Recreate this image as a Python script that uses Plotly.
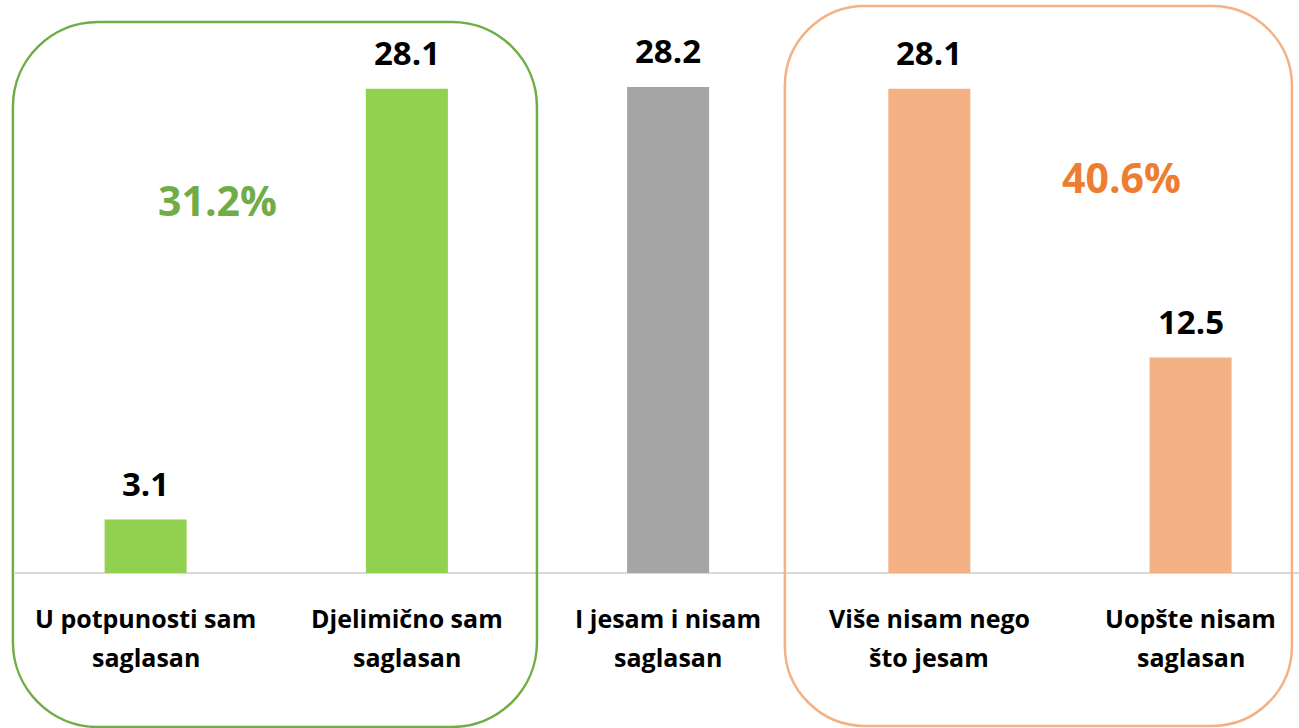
import plotly.graph_objects as go

# Data
categories = [["U potpunosti sam", "saglasan"],
              ["Djelimično sam", "saglasan"],
              ["I jesam i nisam", "saglasan"],
              ["Više nisam nego", "što jesam"],
              ["Uopšte nisam", "saglasan"]]
values = [3.1, 28.1, 28.2, 28.1, 12.5]
value_labels = ["3.1", "28.1", "28.2", "28.1", "12.5"]
bar_colors = ["#92D050", "#92D050", "#A5A5A5", "#F4B183", "#F4B183"]
group_totals = ["31.2%", "40.6%"]

FONT = "Open Sans"
XR = [-0.5, 4.415]
YR = [-9.0, 33.25]
x = list(range(len(values)))

fig = go.Figure(go.Bar(
    x=x, y=values, marker=dict(color=bar_colors, line=dict(width=0)),
    width=0.314, hoverinfo="skip",
))

ann = []
for i, (v, lab) in enumerate(zip(values, value_labels)):
    ann.append(dict(x=i, y=v, text=lab, showarrow=False, yanchor="bottom", yshift=12,
                    font=dict(family=FONT, size=33, color="black", weight="bold")))
for i, (l1, l2) in enumerate(categories):
    ann.append(dict(x=i, y=-2.6, text=l1, showarrow=False,
                    font=dict(family=FONT, size=25, color="black", weight="bold")))
    ann.append(dict(x=i, y=-4.9, text=l2, showarrow=False,
                    font=dict(family=FONT, size=25, color="black", weight="bold")))
ann.append(dict(x=0.277, y=21.65, text=group_totals[0], showarrow=False,
                font=dict(family=FONT, size=41, color="#70AD47", weight="bold")))
ann.append(dict(x=3.734, y=22.95, text=group_totals[1], showarrow=False,
                font=dict(family=FONT, size=41, color="#ED7D31", weight="bold")))


def to_paper(xv, yv):
    return (xv - XR[0]) / (XR[1] - XR[0]), (yv - YR[0]) / (YR[1] - YR[0])


def rounded_box(xa, xb, ya, yb, radius_px, plot_w=1284, plot_h=728):
    x0, y0 = to_paper(xa, ya)
    x1, y1 = to_paper(xb, yb)
    rx, ry = radius_px / plot_w, radius_px / plot_h
    k = 0.5523
    return (f"M {x0+rx},{y1} L {x1-rx},{y1} "
            f"C {x1-rx+k*rx},{y1} {x1},{y1-ry+k*ry} {x1},{y1-ry} "
            f"L {x1},{y0+ry} "
            f"C {x1},{y0+ry-k*ry} {x1-rx+k*rx},{y0} {x1-rx},{y0} "
            f"L {x0+rx},{y0} "
            f"C {x0+rx-k*rx},{y0} {x0},{y0+ry-k*ry} {x0},{y0+ry} "
            f"L {x0},{y1-ry} "
            f"C {x0},{y1-ry+k*ry} {x0+rx-k*rx},{y1} {x0+rx},{y1} Z")


shapes = [
    dict(type="path", xref="paper", yref="paper",
         path=rounded_box(-0.508, 1.498, -8.94, 31.98, 85),
         line=dict(color="#70AD47", width=2.5), layer="above"),
    dict(type="path", xref="paper", yref="paper",
         path=rounded_box(2.447, 4.388, -8.88, 32.9, 80),
         line=dict(color="#F4B183", width=2.5), layer="above"),
]

fig.update_layout(
    width=1299, height=728,
    margin=dict(l=15, r=0, t=0, b=0),
    paper_bgcolor="white", plot_bgcolor="white",
    showlegend=False,
    annotations=ann, shapes=shapes,
    xaxis=dict(range=XR, showticklabels=False, showgrid=False, zeroline=False,
               showline=False, fixedrange=True),
    yaxis=dict(range=YR, showticklabels=False, showgrid=False, zeroline=True,
               zerolinecolor="#D9D9D9", zerolinewidth=2, showline=False, fixedrange=True),
)

fig.write_html("out.html", config={"displayModeBar": False},
               post_script="document.body.style.margin='0';")
